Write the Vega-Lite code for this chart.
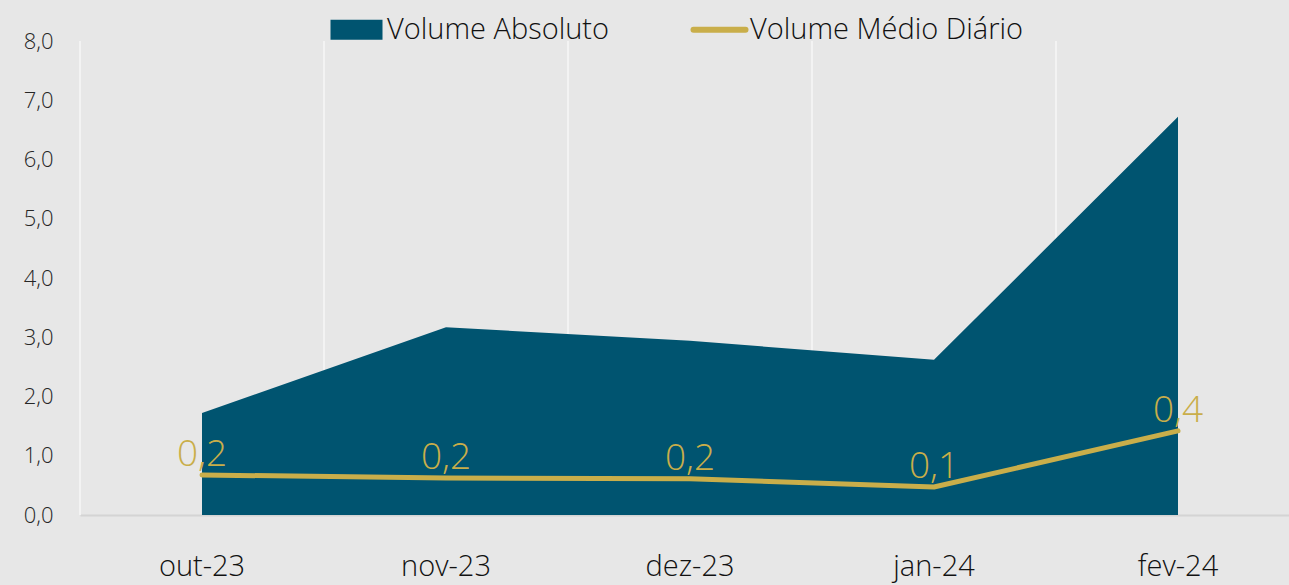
{
  "$schema": "https://vega.github.io/schema/vega-lite/v6.json",
  "width": 1209,
  "height": 474,
  "autosize": {"type": "none"},
  "padding": {"left": 80, "top": 41, "right": 0, "bottom": 70},
  "background": "#E7E7E7",
  "config": {
    "view": {"stroke": null},
    "font": "Open Sans",
    "locale": {"number": {"decimal": ",", "thousands": ".", "grouping": [3], "currency": ["R$", ""]}}
  },
  "data": {
    "values": [
      {"mes": "out-23", "absoluto": 1.72, "medio": 0.169},
      {"mes": "nov-23", "absoluto": 3.17, "medio": 0.156},
      {"mes": "dez-23", "absoluto": 2.94, "medio": 0.153},
      {"mes": "jan-24", "absoluto": 2.62, "medio": 0.118},
      {"mes": "fev-24", "absoluto": 6.72, "medio": 0.355}
    ]
  },
  "encoding": {
    "x": {
      "field": "mes",
      "type": "ordinal",
      "sort": null,
      "bandPosition": 0.5,
      "scale": {"type": "band", "paddingInner": 0, "paddingOuter": 0, "range": [0, 1220]},
      "axis": {
        "title": null,
        "grid": false,
        "ticks": false,
        "domain": true,
        "domainColor": "#D4D4D4",
        "domainWidth": 2,
        "labelAngle": 0,
        "labelFontSize": 29,
        "labelFontWeight": 300,
        "labelColor": "#111111",
        "labelPadding": 37
      }
    }
  },
  "layer": [
    {
      "mark": {"type": "rule", "color": "#F3F3F3", "strokeWidth": 2},
      "encoding": {"x": {"field": "mes", "type": "ordinal", "sort": null, "bandPosition": 0}}
    },
    {
      "mark": {"type": "area", "interpolate": "linear"},
      "encoding": {
        "y": {
          "field": "absoluto",
          "type": "quantitative",
          "scale": {"domain": [0, 8]},
          "axis": {
            "title": null,
            "grid": false,
            "domain": false,
            "ticks": false,
            "values": [0, 1, 2, 3, 4, 5, 6, 7, 8],
            "format": ".1f",
            "labelFontSize": 22,
            "labelFontWeight": 300,
            "labelColor": "#262626",
            "labelPadding": 27
          }
        },
        "color": {
          "datum": "Volume Absoluto",
          "scale": {"domain": ["Volume Absoluto", "Volume Médio Diário"], "range": ["#005470", "#C9AE4A"]},
          "legend": {
            "title": null,
            "orient": "none",
            "legendX": 262,
            "legendY": -26,
            "direction": "horizontal",
            "padding": 0,
            "symbolSize": 2704,
            "columnPadding": 71,
            "labelOffset": 16,
            "labelFontSize": 29,
            "labelFontWeight": 300,
            "labelColor": "#111111",
            "labelLimit": 0,
            "encode": {
              "symbols": {
                "update": {
                  "shape": {"signal": "datum.value === 'Volume Absoluto' ? 'M-1,-0.385H1V0.385H-1Z' : 'M-1,0H1'"},
                  "fill": {"signal": "datum.value === 'Volume Absoluto' ? '#005470' : 'transparent'"},
                  "stroke": {"signal": "datum.value === 'Volume Absoluto' ? 'transparent' : '#D2B24C'"},
                  "strokeWidth": {"signal": "datum.value === 'Volume Absoluto' ? 0 : 6"},
                  "strokeCap": {"value": "round"},
                  "opacity": {"value": 1}
                }
              }
            }
          }
        }
      }
    },
    {
      "encoding": {
        "y": {"field": "medio", "type": "quantitative", "scale": {"domain": [0, 2]}, "axis": null}
      },
      "layer": [
        {
          "mark": {"type": "line", "strokeWidth": 5, "strokeCap": "round", "strokeJoin": "round"},
          "encoding": {"color": {"datum": "Volume Médio Diário"}}
        },
        {
          "mark": {"type": "text", "color": "#C9AE4A", "fontSize": 37, "fontWeight": 300, "align": "center", "baseline": "alphabetic", "dy": -9},
          "encoding": {"text": {"field": "medio", "type": "quantitative", "format": ".1f"}}
        }
      ]
    }
  ],
  "resolve": {"scale": {"y": "independent"}}
}
